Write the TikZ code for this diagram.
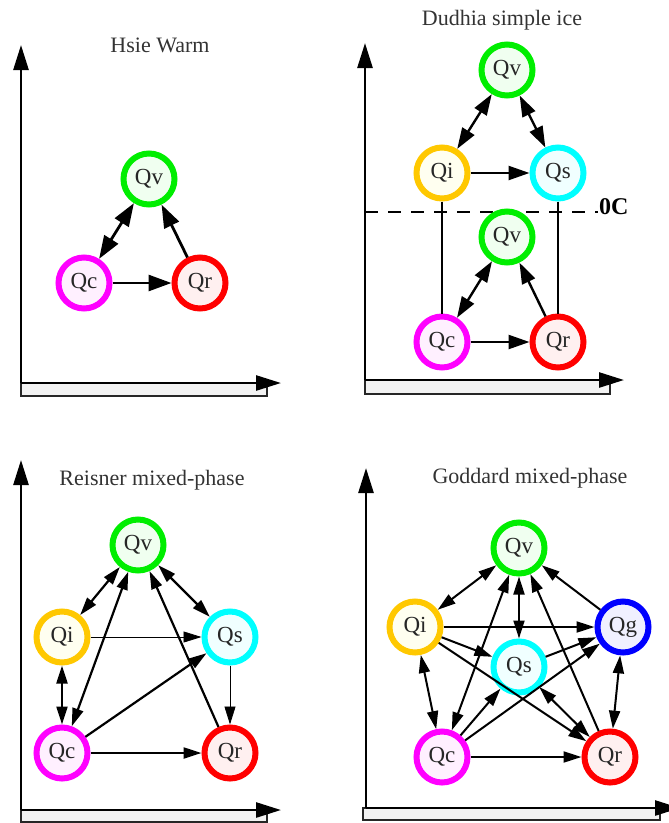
\documentclass[tikz,border=0pt]{standalone}
\usepackage{fontspec}
\setmainfont{Liberation Serif}
\usetikzlibrary{arrows.meta, positioning}

\definecolor{vring}{RGB}{0,238,0}
\definecolor{vfill}{RGB}{240,255,240}
\definecolor{cring}{RGB}{255,0,255}
\definecolor{cfill}{RGB}{255,240,255}
\definecolor{rring}{RGB}{255,0,0}
\definecolor{rfill}{RGB}{255,240,240}
\definecolor{iring}{RGB}{255,200,0}
\definecolor{ifill}{RGB}{255,255,240}
\definecolor{sring}{RGB}{0,255,255}
\definecolor{sfill}{RGB}{240,255,255}
\definecolor{gring}{RGB}{0,0,255}
\definecolor{gfill}{RGB}{240,240,255}

\begin{document}
\begin{tikzpicture} [x=1pt, y=-1pt, on grid,
    qbox/.style = {circle, minimum size=51pt, inner sep=0pt, line width=6pt, text=black!85, font=\fontsize{23}{25}\selectfont},
    qv/.style = {qbox, draw=vring, fill=vfill},
    qc/.style = {qbox, draw=cring, fill=cfill},
    qr/.style = {qbox, draw=rring, fill=rfill},
    qi/.style = {qbox, draw=iring, fill=ifill},
    qs/.style = {qbox, draw=sring, fill=sfill},
    qg/.style = {qbox, draw=gring, fill=gfill},
    title/.style = {anchor=base, inner sep=0pt, text=black!80, font=\fontsize{22}{24}\selectfont},
    axis/.style = {line width=2.6pt, -{Triangle[length=25pt,width=15pt]}},
    ground/.style = {draw=black!85, line width=2pt, fill=black!5},
    zeroline/.style = {line width=2pt, dash pattern=on 13pt off 10pt},
    fuse/.style = {line width=1.8pt},
    hflow/.style = {line width=2.8pt, >={Triangle[length=23pt,width=16pt]}},
    dflow/.style = {line width=2.4pt, >={Triangle[length=21pt,width=14pt]}},
    rflow/.style = {line width=2.2pt, >={Triangle[length=18pt,width=11pt]}},
    rthin/.style = {line width=0.8pt, >={Triangle[length=18pt,width=11pt]}},
    gflow/.style = {line width=2pt, >={Triangle[length=18pt,width=11pt]}}]

    \useasboundingbox (0,0) rectangle (669,823);

    \coordinate (ho) at (21,383);
    \coordinate (do) at (365,380);
    \coordinate (ro) at (21,810);
    \coordinate (go) at (366,808);
    \draw [ground] (ho) rectangle (267,396);
    \draw [ground] (do) rectangle (610,394);
    \draw [ground] (ro) rectangle (267,822);
    \draw [ground] (363,808) rectangle (660,820);
    \draw [axis] (ho) -- (21,45);
    \draw [axis] (ho) -- (281,383);
    \draw [axis] (do) -- (365,43);
    \draw [axis] (do) -- (624,380);
    \draw [axis] (ro) -- (21,460);
    \draw [axis] (ro) -- (281,810);
    \draw [axis] (go) -- (366,468);
    \draw [axis] (go) -- (680,808);

    \coordinate (dfrz) at (365,212);
    \draw [zeroline] (dfrz) -- (598,212) node (dzero) [anchor=base west, inner sep=0pt, yshift=-2pt, font=\bfseries\fontsize{24}{26}\selectfont] {0C};

    \node (hname) [title] at (160,52) {Hsie Warm};
    \node (hqc) [qc] at (84,283) {Qc};
    \node (hqr) [qr, right = 116pt of hqc] {Qr};
    \node (hqv) [qv, above right = 104pt and 65pt of hqc] {Qv};

    \path [hflow, <->] (hqc) edge (hqv);
    \path [hflow, ->] (hqr) edge (hqv);
    \path [hflow, ->] (hqc) edge (hqr);

    \node (dname) [title] at (502,25) {Dudhia simple ice};
    \node (dqc) [qc] at (442,342) {Qc};
    \node (dqr) [qr, right = 116pt of dqc] {Qr};
    \node (dqvw) [qv, above right = 105pt and 65pt of dqc] {Qv};
    \node (dqi) [qi, above = 169pt of dqc] {Qi};
    \node (dqs) [qs, right = 116pt of dqi] {Qs};
    \node (dqvc) [qv, above right = 103pt and 65pt of dqi] {Qv};

    \draw [fuse] (dqi) -- (dqc);
    \draw [fuse] (dqs) -- (dqr);
    \path [dflow, <->] (dqvc) edge (dqi);
    \path [dflow, <->] (dqvc) edge (dqs);
    \path [dflow, ->] (dqi) edge (dqs);
    \path [dflow, <->] (dqvw) edge (dqc);
    \path [dflow, ->] (dqr) edge (dqvw);
    \path [dflow, ->] (dqc) edge (dqr);

    \node (rname) [title] at (152,485) {Reisner mixed-phase};
    \node (rqc) [qc] at (62,753) {Qc};
    \node (rqr) [qr, right = 168pt of rqc] {Qr};
    \node (rqi) [qi, above = 116pt of rqc] {Qi};
    \node (rqs) [qs, right = 168pt of rqi] {Qs};
    \node (rqv) [qv, above right = 208pt and 76pt of rqc] {Qv};

    \path [rflow, <->] (rqv) edge (rqi);
    \path [rflow, <->] (rqv) edge (rqs);
    \path [rthin, ->] (rqi) edge (rqs);
    \path [rflow, <->] (rqi) edge (rqc);
    \path [rflow, <->] (rqv) edge (rqc);
    \path [rflow, ->] (rqr) edge (rqv);
    \path [rflow, ->] (rqc) edge (rqs);
    \path [rthin, ->] (rqs) edge (rqr);
    \path [rflow, ->] (rqc) edge (rqr);

    \node (gname) [title] at (530,483) {Goddard mixed-phase};
    \node (gqc) [qc] at (442,757) {Qc};
    \node (gqr) [qr, right = 168pt of gqc] {Qr};
    \node (gqi) [qi, above left = 130pt and 27pt of gqc] {Qi};
    \node (gqg) [qg, right = 208pt of gqi] {Qg};
    \node (gqv) [qv, above right = 79pt and 104pt of gqi] {Qv};
    \node (gqs) [qs, below = 119pt of gqv] {Qs};

    \path [gflow, <->] (gqv) edge (gqi);
    \path [gflow, ->] (gqg) edge (gqv);
    \path [gflow, <->] (gqv) edge (gqs);
    \path [gflow, <->] (gqv) edge (gqc);
    \path [gflow, ->] (gqr) edge (gqv);
    \path [gflow, ->] (gqi) edge (gqg);
    \path [gflow, ->] (gqi) edge (gqs);
    \path [gflow, ->] (gqi) edge (gqr);
    \path [gflow, <->] (gqi) edge (gqc);
    \path [gflow, ->] (gqs) edge (gqg);
    \path [gflow, ->] (gqc) edge (gqs);
    \path [gflow, ->] (gqc) edge (gqg);
    \path [gflow, ->] (gqc) edge (gqr);
    \path [gflow, <->] (gqs) edge (gqr);
    \path [gflow, <->] (gqg) edge (gqr);

\end{tikzpicture}
\end{document}
